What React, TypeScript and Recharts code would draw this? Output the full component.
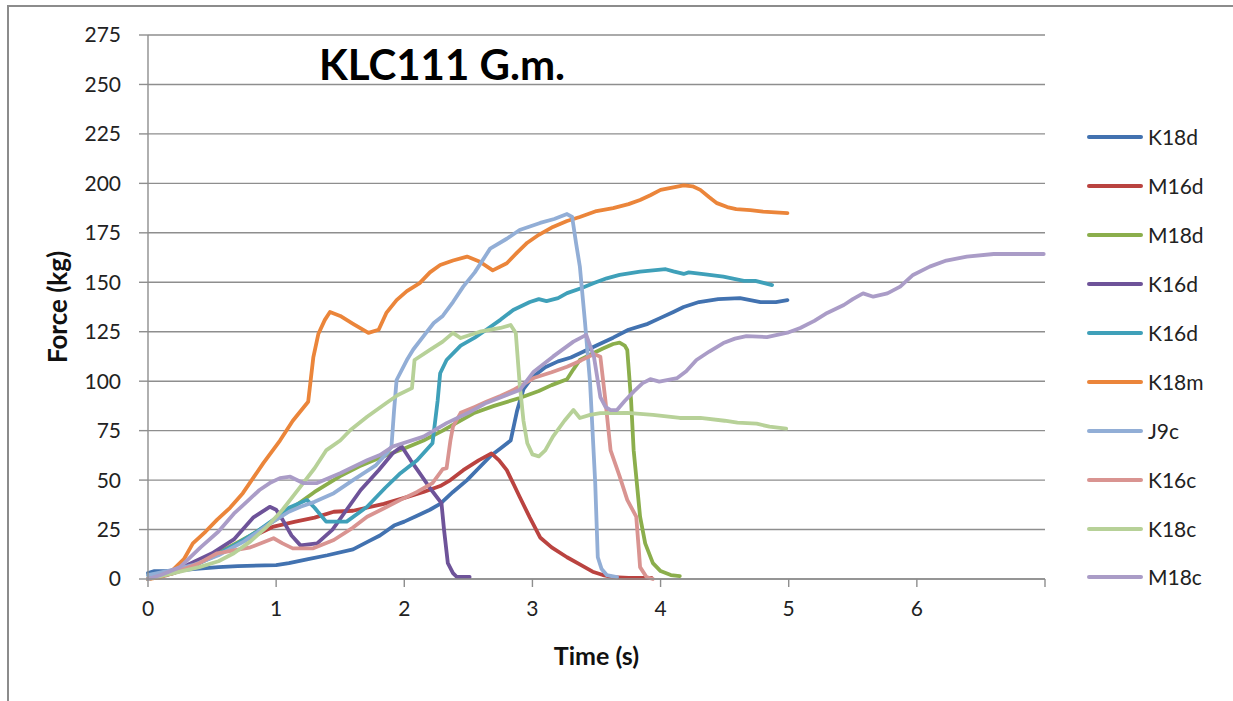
import React from "react";
import {
  LineChart,
  Line,
  XAxis,
  YAxis,
  CartesianGrid,
} from "recharts";

// [time (s), force (kg)]
const K18D: [number, number][] = [
  [0, 3], [0.05, 4], [0.2, 4], [0.35, 5], [0.55, 6], [0.7, 6.5], [1.0, 7], [1.1, 8],
  [1.25, 10], [1.4, 12], [1.6, 15], [1.72, 19], [1.81, 22], [1.92, 27], [2.0, 29],
  [2.1, 32], [2.2, 35], [2.28, 38], [2.38, 44], [2.49, 50], [2.58, 56], [2.67, 62],
  [2.75, 66], [2.83, 70], [2.88, 85], [2.93, 96], [3.0, 102], [3.1, 107], [3.2, 110],
  [3.3, 112], [3.4, 115], [3.5, 118], [3.63, 122], [3.75, 126], [3.9, 129], [4.0, 132],
  [4.1, 135], [4.18, 137.5], [4.3, 140], [4.45, 141.5], [4.62, 142], [4.7, 141],
  [4.78, 140], [4.9, 140], [4.99, 141],
];

const M16D: [number, number][] = [
  [0, 0], [0.15, 2], [0.3, 5], [0.54, 13], [0.8, 21], [0.98, 26.5], [1.15, 29],
  [1.3, 31], [1.45, 34], [1.6, 34.5], [1.84, 38], [2.0, 41], [2.15, 44], [2.28, 47],
  [2.36, 50], [2.46, 55], [2.58, 60], [2.68, 63.5], [2.74, 60], [2.8, 55], [2.86, 47],
  [2.9, 41.6], [2.98, 31], [3.06, 21], [3.15, 16], [3.27, 11], [3.38, 7], [3.47, 3.7],
  [3.55, 2], [3.63, 1], [3.75, 0.5], [3.93, 0.5],
];

const M18D: [number, number][] = [
  [0, 0], [0.2, 3], [0.4, 8], [0.6, 15], [0.8, 22], [1.0, 30], [1.15, 37], [1.3, 44],
  [1.5, 52], [1.65, 57], [1.8, 61], [2.0, 66], [2.15, 70], [2.3, 75], [2.54, 83.8],
  [2.7, 87.5], [2.9, 91.5], [3.05, 95], [3.15, 98], [3.27, 101], [3.32, 106],
  [3.37, 110.7], [3.47, 114], [3.55, 116.5], [3.63, 118.8], [3.68, 119.5], [3.72, 118],
  [3.74, 115.8], [3.77, 90], [3.79, 65], [3.82, 45], [3.84, 31.5], [3.88, 18],
  [3.94, 8], [4.0, 4], [4.08, 2], [4.15, 1.5],
];

const K16D_A: [number, number][] = [
  [0, 0], [0.15, 3], [0.27, 6], [0.5, 13], [0.67, 20], [0.82, 31], [0.95, 36.5],
  [1.0, 35], [1.05, 30], [1.12, 22], [1.19, 17], [1.32, 18], [1.44, 25], [1.55, 35],
  [1.66, 45], [1.8, 55], [1.91, 63.6], [1.98, 67], [2.05, 60], [2.12, 53.5], [2.2, 46],
  [2.29, 38.4], [2.31, 25], [2.34, 8], [2.38, 3], [2.41, 1], [2.51, 1],
];

const K16D_B: [number, number][] = [
  [0, 2], [0.1, 3], [0.3, 5], [0.5, 11], [0.7, 18], [0.85, 24], [1.0, 31], [1.1, 36],
  [1.24, 40], [1.3, 36], [1.39, 29], [1.55, 29], [1.71, 36.5], [1.85, 46], [1.97, 53.5],
  [2.1, 60], [2.22, 68.6], [2.26, 90], [2.28, 104], [2.33, 110.7], [2.44, 118],
  [2.55, 122], [2.64, 126], [2.75, 131], [2.85, 136], [2.98, 140], [3.05, 141.5],
  [3.11, 140.5], [3.2, 142], [3.27, 144.5], [3.38, 147], [3.48, 149.6], [3.58, 152],
  [3.68, 153.7], [3.84, 155.4], [4.04, 156.6], [4.1, 155.5], [4.18, 154.2], [4.22, 155],
  [4.35, 154], [4.49, 152.8], [4.65, 150.7], [4.74, 150.7], [4.87, 148.6],
];

const K18M: [number, number][] = [
  [0, 0], [0.1, 1], [0.2, 5], [0.28, 10], [0.35, 18], [0.45, 24], [0.54, 30], [0.64, 36],
  [0.74, 43.4], [0.82, 51], [0.9, 58.6], [1.03, 70], [1.13, 80], [1.25, 89.6],
  [1.29, 112], [1.33, 124], [1.38, 131], [1.42, 135], [1.5, 133], [1.6, 129],
  [1.72, 124.4], [1.8, 126], [1.86, 134.5], [1.94, 141], [2.02, 145.5], [2.12, 149.6],
  [2.2, 155], [2.28, 158.7], [2.38, 161], [2.49, 163], [2.59, 160.4], [2.69, 156],
  [2.8, 159.6], [2.88, 165], [2.96, 170], [3.05, 174], [3.16, 178], [3.27, 181],
  [3.37, 183], [3.5, 186], [3.63, 187.5], [3.75, 189.5], [3.84, 191.6], [3.92, 194],
  [4.0, 196.7], [4.1, 198], [4.18, 199], [4.25, 198.5], [4.31, 196.7], [4.38, 193],
  [4.44, 190], [4.52, 188], [4.59, 187], [4.7, 186.5], [4.8, 185.7], [4.99, 185],
];

const J9C: [number, number][] = [
  [0, 2], [0.15, 4], [0.35, 7], [0.55, 12], [0.75, 19], [0.95, 28], [1.1, 34],
  [1.19, 36.5], [1.3, 39], [1.45, 43.4], [1.6, 50], [1.78, 57.6], [1.87, 64], [1.9, 67],
  [1.92, 85], [1.94, 100.6], [2.02, 110.7], [2.07, 116], [2.17, 124.4], [2.23, 129.4],
  [2.3, 133], [2.38, 140], [2.46, 147.8], [2.55, 155], [2.67, 167], [2.8, 172],
  [2.9, 176.4], [3.06, 180], [3.17, 182], [3.27, 184.5], [3.31, 183], [3.34, 170],
  [3.37, 158], [3.41, 130], [3.45, 99], [3.49, 48.5], [3.51, 11], [3.54, 5], [3.58, 2],
  [3.66, 1],
];

const K16C: [number, number][] = [
  [0, 0], [0.2, 3], [0.4, 8], [0.54, 13], [0.8, 16], [0.98, 20.6], [1.05, 18],
  [1.13, 15.5], [1.29, 15.5], [1.45, 19.7], [1.6, 26], [1.71, 31.5], [1.85, 36],
  [1.97, 40], [2.1, 44], [2.22, 48.5], [2.3, 55.5], [2.33, 56], [2.36, 70], [2.38, 77],
  [2.44, 84], [2.55, 87], [2.64, 89.6], [2.75, 92.5], [2.85, 95.5], [3.01, 101.6],
  [3.15, 104.5], [3.27, 107.3], [3.38, 110.5], [3.48, 113.7], [3.53, 112.4], [3.57, 90],
  [3.61, 65], [3.68, 52], [3.74, 40], [3.81, 31.5], [3.83, 15], [3.84, 6], [3.89, 1],
  [3.94, 0],
];

const K18C: [number, number][] = [
  [0, 0], [0.2, 3], [0.4, 6], [0.55, 9], [0.67, 13], [0.8, 19], [0.93, 26.5], [1.05, 35],
  [1.19, 46.7], [1.3, 56], [1.39, 65], [1.5, 70], [1.58, 75.3], [1.71, 82], [1.86, 89],
  [1.95, 93], [2.06, 96.5], [2.08, 110.7], [2.2, 115.8], [2.3, 120], [2.38, 124.4],
  [2.44, 121.8], [2.59, 125], [2.75, 126.9], [2.83, 128.4], [2.87, 124.4], [2.9, 99],
  [2.93, 80], [2.96, 68.6], [3.0, 63], [3.05, 62], [3.1, 65], [3.16, 72], [3.25, 80],
  [3.32, 85.4], [3.37, 81.4], [3.45, 83], [3.53, 83.9], [3.74, 84], [3.94, 83],
  [4.15, 81.4], [4.31, 81.4], [4.5, 80], [4.6, 79], [4.75, 78.5], [4.85, 77], [4.98, 76],
];

const M18C: [number, number][] = [
  [0, 0], [0.1, 2], [0.25, 6], [0.41, 16], [0.55, 24], [0.67, 33], [0.77, 39], [0.87, 45],
  [0.95, 48.5], [1.03, 51], [1.11, 51.7], [1.21, 48.5], [1.32, 48.5], [1.5, 53.5],
  [1.71, 60], [1.81, 62.7], [1.91, 67], [2.15, 72], [2.33, 78.8], [2.5, 84], [2.64, 89],
  [2.9, 95.5], [3.01, 104.8], [3.16, 112.4], [3.32, 120], [3.42, 123.4], [3.45, 118],
  [3.48, 112.4], [3.53, 92], [3.57, 87], [3.61, 85.4], [3.66, 85.4], [3.72, 90],
  [3.79, 94.7], [3.86, 99], [3.92, 101], [3.99, 99.8], [4.13, 101.6], [4.2, 105],
  [4.28, 110.7], [4.38, 115], [4.49, 119.3], [4.58, 121.5], [4.67, 122.8], [4.83, 122.3],
  [4.99, 124.5], [5.09, 126.9], [5.2, 130.5], [5.3, 134.5], [5.43, 138.5], [5.5, 141.5],
  [5.58, 144.4], [5.66, 142.7], [5.77, 144.4], [5.87, 147.8], [5.97, 153.7], [6.1, 157.9],
  [6.23, 161], [6.39, 163], [6.6, 164.3], [6.99, 164.3],
];

const X_TICKS = [0, 1, 2, 3, 4, 5, 6, 7];
const Y_TICKS = [0, 25, 50, 75, 100, 125, 150, 175, 200, 225, 250, 275];

const SERIES = [
  { name: "K18d", color: "#4272B0", points: K18D },
  { name: "M16d", color: "#BA4340", points: M16D },
  { name: "M18d", color: "#8BAE4C", points: M18D },
  { name: "K16d", color: "#6E5399", points: K16D_A },
  { name: "K16d", color: "#3FA0B9", points: K16D_B },
  { name: "K18m", color: "#EB853A", points: K18M },
  { name: "J9c", color: "#92AED6", points: J9C },
  { name: "K16c", color: "#D99491", points: K16C },
  { name: "K18c", color: "#B7D198", points: K18C },
  { name: "M18c", color: "#AA9CC7", points: M18C },
];

const FONT = "Lato, 'Open Sans', sans-serif";
const GRID = "#8e8e8e";

export default function App() {
  return (
    <div style={{ position: "absolute", left: 0, top: 0, width: 1233, height: 701, background: "#fff", fontFamily: FONT }}>
      <div
        style={{
          position: "absolute",
          left: 7,
          top: 5,
          right: 0,
          bottom: 0,
          borderTop: "2px solid #8c8c8c",
          borderLeft: "2px solid #8c8c8c",
        }}
      />
      <div style={{ position: "absolute", left: 0, top: 0 }}>
        <LineChart width={1233} height={701} margin={{ top: 35, right: 188, left: 0, bottom: 0 }}>
          <CartesianGrid vertical={false} stroke={GRID} strokeWidth={1.4} />
          <XAxis
            type="number"
            dataKey="t"
            domain={[0, 7]}
            ticks={X_TICKS}
            tickFormatter={(v: number) => (v === 7 ? "" : String(v))}
            height={122}
            tickSize={8}
            tickMargin={14}
            axisLine={{ stroke: GRID, strokeWidth: 1.4 }}
            tickLine={{ stroke: GRID, strokeWidth: 1.4 }}
            tick={{ fill: "#222", fontSize: 21, fontFamily: FONT }}
            label={{
              value: "Time (s)",
              position: "insideBottom",
              offset: 36,
              style: { fill: "#111", fontSize: 25, fontWeight: 700, fontFamily: FONT },
            }}
          />
          <YAxis
            type="number"
            domain={[0, 275]}
            ticks={Y_TICKS}
            width={148}
            tickSize={9}
            tickMargin={18}
            axisLine={{ stroke: GRID, strokeWidth: 1.4 }}
            tickLine={{ stroke: GRID, strokeWidth: 1.4 }}
            tick={{ fill: "#222", fontSize: 21, fontFamily: FONT }}
            label={{
              value: "Force (kg)",
              angle: -90,
              position: "insideLeft",
              offset: 58,
              style: { textAnchor: "middle", fill: "#111", fontSize: 26, fontWeight: 700, fontFamily: FONT },
            }}
          />
          {SERIES.map((s, i) => (
            <Line
              key={i}
              name={s.name}
              data={s.points.map(([t, v]) => ({ t, v }))}
              dataKey="v"
              type="linear"
              stroke={s.color}
              strokeWidth={3.8}
              strokeLinecap="round"
              strokeLinejoin="round"
              dot={false}
              activeDot={false}
              isAnimationActive={false}
            />
          ))}
          <text x={442} y={80} textAnchor="middle" fontFamily={FONT} fontWeight={700} fontSize={42} fill="#000">
            KLC111 G.m.
          </text>
        </LineChart>
      </div>
      <div style={{ position: "absolute", left: 1087, top: 137 - 24, width: 146 }}>
        {SERIES.map((s, i) => (
          <div key={i} style={{ display: "flex", alignItems: "center", height: 48.9 }}>
            <div style={{ width: 56, height: 4, borderRadius: 2, background: s.color, marginRight: 5 }} />
            <span style={{ fontSize: 21, color: "#222", lineHeight: "24px" }}>{s.name}</span>
          </div>
        ))}
      </div>
    </div>
  );
}
